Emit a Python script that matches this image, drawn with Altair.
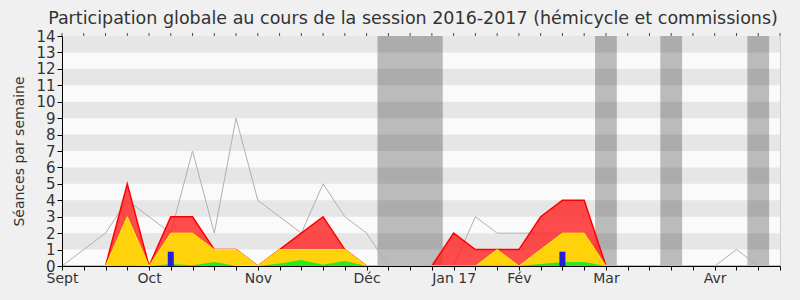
import altair as alt
import pandas as pd

# ---- data (weekly, week 0 = early September 2016) ----
weeks = list(range(34))
seances_total = [0, 1, 2, 4, 3, 2, 7, 2, 9, 4, 3, 2, 5, 3, 2, 0, 0, 0, 0, 3,
                 2, 2, 2, 2, 2, 0, 0, 0, 0, 0, 0, 1, 0, 0]
presences = [0, 0, 0, 5, 0, 3, 3, 1, 1, 0, 1, 2, 3, 1, 0, 0, 0, 0, 2, 1,
             1, 1, 3, 4, 4, 0, 0, 0, 0, 0, 0, 0, 0, 0]
participations = [0, 0, 0, 3, 0, 2, 2, 1, 1, 0, 1, 1, 1, 1, 0, 0, 0, 0, 0, 0,
                  1, 0, 1, 2, 2, 0, 0, 0, 0, 0, 0, 0, 0, 0]
interventions = [0, 0, 0, 0.03, 0, 0.12, 0.05, 0.25, 0, 0, 0.15, 0.36, 0.08, 0.3, 0, 0, 0, 0, 0.03, 0.03,
                 0.03, 0.02, 0.12, 0.25, 0.25, 0, 0, 0, 0, 0, 0, 0, 0, 0]
question_weeks = [5, 23]
question_vals = [0.87, 0.87]

vacances_debut = [14.5, 24.5, 27.5, 31.5]
vacances_fin = [17.5, 25.5, 28.5, 32.5]

month_ticks = [0, 4, 9, 14, 18, 21, 25, 30]
month_labels = ["Sept", "Oct", "Nov", "Déc", "Jan 17", "Fév", "Mar", "Avr"]

stripe_lo = [1, 3, 5, 7, 9, 11, 13]

# ---- tables ----
df = pd.DataFrame({
    "week": weeks,
    "total": seances_total,
    "presence": presences,
    "participation": participations,
    "intervention": interventions,
    "top": [14] * len(weeks),
})
df_q = pd.DataFrame({"week": question_weeks, "val": question_vals})
df_vac = pd.DataFrame({"start": vacances_debut, "end": vacances_fin,
                       "lo": [0] * len(vacances_debut), "hi": [14] * len(vacances_debut)})
df_stripes = pd.DataFrame({"lo": stripe_lo, "hi": [v + 1 for v in stripe_lo],
                           "x0": [0] * len(stripe_lo), "x1": [33] * len(stripe_lo)})

label_expr = ""
for t, l in zip(month_ticks, month_labels):
    label_expr += f"datum.value == {t} ? '{l}' : "
label_expr += "''"

FONT = "DejaVu Sans"
xscale = alt.Scale(domain=[0, 33], nice=False, zero=False, padding=0)
yscale = alt.Scale(domain=[0, 14], nice=False, padding=0)

x_axis = alt.Axis(orient="bottom", values=weeks, labelExpr=label_expr, title=None, grid=False,
                  tickSize=4, tickColor="#000", domainColor="#000", labelPadding=1,
                  labelFont=FONT, labelFontSize=14, labelColor="#333",
                  labelFlush=False, labelOverlap=False, zindex=1)
y_axis = alt.Axis(values=list(range(15)), title="Séances par semaine", grid=False,
                  tickSize=5, tickColor="#000", domainColor="#000", labelPadding=2,
                  labelOverlap=False, labelFlush=False,
                  labelFont=FONT, labelFontSize=15, labelColor="#333",
                  titleFont=FONT, titleFontSize=14, titleFontWeight="normal",
                  titleColor="#333", titlePadding=9, zindex=1)


def X(field):
    return alt.X(field, type="quantitative", scale=xscale, axis=x_axis)


def Y(field):
    return alt.Y(field, type="quantitative", scale=yscale, axis=y_axis)


stripes = alt.Chart(df_stripes).mark_rect(color="#e6e6e6").encode(
    x=X("x0"), x2="x1", y=Y("lo"), y2="hi",
)

vac = alt.Chart(df_vac).mark_rect(color="#000000", opacity=0.25).encode(
    x=X("start"), x2="end", y=Y("lo"), y2="hi",
)

gray_line = alt.Chart(df).mark_line(color="#b0b0b0", strokeWidth=1).encode(
    x=X("week"), y=Y("total"),
)

red = alt.Chart(df).mark_area(color="#ff2424", fillOpacity=0.82, stroke="#ff0000",
                              strokeWidth=1.5).encode(
    x=X("week"), y=Y("presence"),
)

yellow = alt.Chart(df).mark_area(color="#ffd20c", stroke="#ffee00",
                                 strokeWidth=1).encode(
    x=X("week"), y=Y("participation"),
)

green = alt.Chart(df).mark_area(color="#2ee81e").encode(
    x=X("week"), y=Y("intervention"),
)

blue = alt.Chart(df_q).mark_bar(color="#2020dd", size=6).encode(
    x=X("week"), y=Y("val"),
)

top_ticks = alt.Chart(df).mark_tick(color="#000", size=3, thickness=1, yOffset=-1.5,
                                    clip=False).encode(
    x=X("week"), y=Y("top"),
)

chart = alt.layer(stripes, vac, gray_line, red, yellow, green, blue, top_ticks).properties(
    width=718,
    height=230,
    autosize="none",
    padding={"left": 62, "top": 36, "right": 20, "bottom": 34},
    background="#f0f0f0",
    title=alt.TitleParams(
        "Participation globale au cours de la session 2016-2017 (hémicycle et commissions)",
        font=FONT, fontSize=17.5, fontWeight="normal", color="#333",
        anchor="middle", dx=-8, offset=2,
    ),
).configure_view(fill="#fafafa", stroke="#cccccc")

chart.save("out.html", embed_options={"renderer": "svg", "actions": False})
